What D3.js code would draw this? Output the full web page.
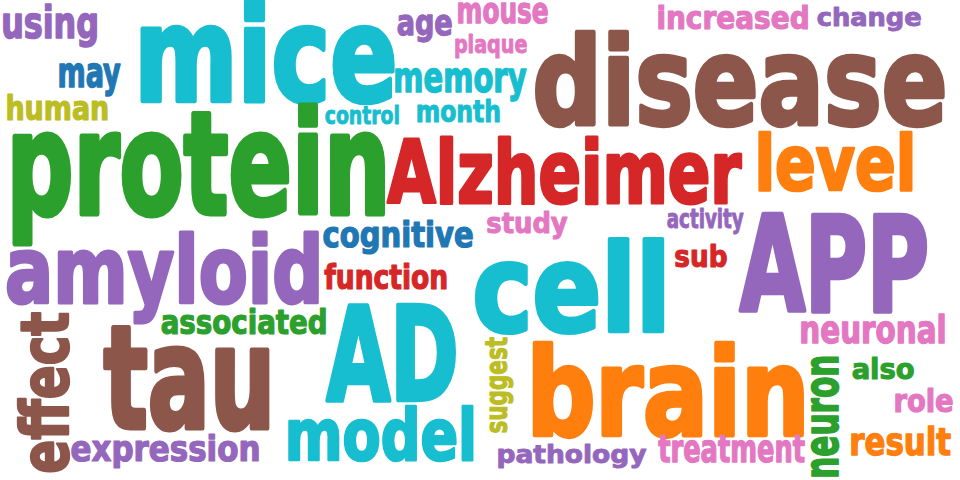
<!DOCTYPE html>
<html lang="en">
<head>
    <meta charset="UTF-8" />
    <title>Alzheimer word cloud</title>
    <script src="https://d3js.org/d3.v7.min.js"></script>
    <style>
        body { margin: 0; background: #fff; }
        svg { display: block; }
        text { font-family: "DejaVu Sans Condensed", "DejaVu Sans", sans-serif; font-weight: bold; stroke-linejoin: round; }
    </style>
</head>
<body>
    <svg id="cloud"></svg>

    <script>
        const width = 960;
        const height = 480;
        const FONT = '"DejaVu Sans Condensed", "DejaVu Sans", sans-serif';
        const STROKE = 0.035; // extra weight, as a share of font size

        // words and their category colour (index into schemeCategory10)
        const words = [
            "using", "mice", "age", "mouse", "plaque", "increased", "change",
            "may", "memory", "disease", "human", "control", "month", "protein",
            "Alzheimer", "level", "study", "activity", "cognitive", "amyloid",
            "cell", "APP", "sub", "function", "associated", "AD", "neuronal",
            "effect", "tau", "suggest", "brain", "neuron", "also", "role",
            "result", "expression", "model", "pathology", "treatment"
        ];
        const colorIndex = [
            4, 9, 4, 6, 6, 6, 4,
            0, 9, 5, 8, 9, 9, 2,
            3, 1, 6, 4, 0, 4,
            9, 4, 3, 3, 2, 9, 6,
            5, 5, 8, 1, 2, 2, 6,
            1, 4, 9, 4, 6
        ];

        // layout read off the cloud: ink box [left, right, top, baseline]
        // for rotated words: [top side, baseline side, end, start]
        const rotated = ["effect", "suggest", "neuron"];
        const boxes = [
            [3, 97, 7, 39], [140, 395, 2, 103], [397, 452, 15, 36], [458, 548, 3, 24],
            [455, 527, 32, 53], [658, 808, 3, 30], [817, 921, 5, 26],
            [59, 121, 63, 88], [395, 527, 68, 93], [535, 945, 25, 126], [7, 108, 93, 121],
            [325, 399, 104, 124], [417, 500, 98, 123], [12, 386, 115, 216],
            [386, 743, 133, 205], [758, 913, 128, 191], [487, 568, 210, 234],
            [667, 744, 209, 228], [323, 473, 223, 248], [6, 319, 228, 305],
            [474, 665, 233, 333], [738, 928, 212, 313], [675, 727, 243, 268],
            [324, 447, 262, 290], [161, 326, 307, 335], [325, 457, 302, 402],
            [801, 945, 313, 344],
            [14, 69, 312, 473], [103, 270, 337, 431], [488, 508, 337, 433],
            [532, 805, 336, 437], [811, 839, 356, 477], [852, 914, 356, 380],
            [895, 953, 387, 413], [851, 951, 425, 456], [71, 259, 437, 462],
            [288, 474, 402, 461], [498, 647, 442, 463], [658, 805, 438, 463]
        ];

        const color = d3.scaleOrdinal(d3.range(10), d3.schemeCategory10);

        // height of the tallest letter over the x-height in the source face
        function tallRatio(w) {
            if (/[bdfhklA-Z]/.test(w)) return 1.42;
            if (/[ij]/.test(w)) return 1.21;
            if (/t/.test(w)) return 1.12;
            return 1;
        }

        const svg = d3.select("#cloud")
            .attr("width", width)
            .attr("height", height);

        // measure glyph ink at 100px so each word can be fitted to its box
        const ctx = document.createElement("canvas").getContext("2d");
        ctx.font = `bold 100px ${FONT}`;
        const xAsc = ctx.measureText("x").actualBoundingBoxAscent;

        const data = words.map((w, i) => {
            const m = ctx.measureText(w);
            const b = boxes[i];
            const rot = rotated.includes(w);
            const wAsc = m.actualBoundingBoxAscent;
            const inkW = m.actualBoundingBoxLeft + m.actualBoundingBoxRight;
            const h = rot ? b[1] - b[0] : b[3] - b[2];
            const len = rot ? b[3] - b[2] : b[1] - b[0];
            const base = rot ? b[1] : b[3];
            let fs;
            if (!/[a-z]/.test(w)) fs = h / (wAsc / 100 + STROKE);
            else fs = (h / tallRatio(w)) / (xAsc / 100 + STROKE);
            // keep the top of the word inside the picture
            if (!rot) fs = Math.min(fs, (base - 1) / (wAsc / 100 + STROKE / 2));
            const sw = STROKE * fs;
            const sx = len / ((inkW / 100 + STROKE) * fs);
            const tr = rot
                ? `translate(${base - sw / 2},${b[3]}) rotate(-90) scale(${sx},1)`
                : `translate(${b[0]},${base - sw / 2}) scale(${sx},1)`;
            return {
                text: w, color: color(colorIndex[i]), fs, sw,
                dx: m.actualBoundingBoxLeft * fs / 100 + sw / 2, tr
            };
        });

        svg.append("g")
            .selectAll("text")
            .data(data)
            .join("text")
            .attr("transform", d => d.tr)
            .attr("x", d => d.dx)
            .attr("y", 0)
            .attr("font-size", d => d.fs)
            .attr("fill", d => d.color)
            .attr("stroke", d => d.color)
            .attr("stroke-width", d => d.sw)
            .text(d => d.text);
    </script>
</body>
</html>
